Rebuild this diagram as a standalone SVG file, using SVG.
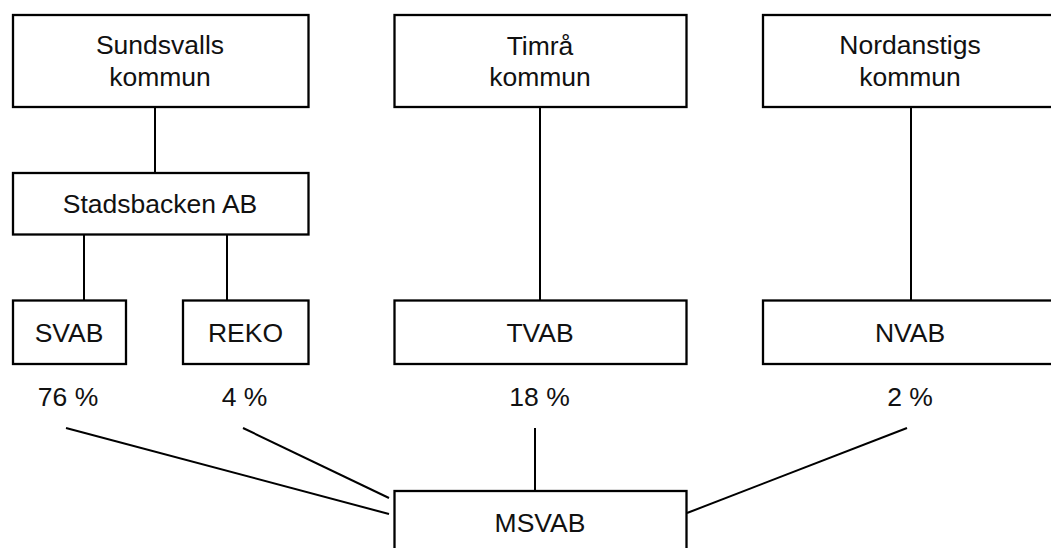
<svg xmlns="http://www.w3.org/2000/svg" width="1051" height="548" viewBox="0 0 1051 548">
<style>
.box{fill:#fff;stroke:#000;stroke-width:2.3}
.t{font-family:"Liberation Sans",Arial,sans-serif;font-size:26.5px;fill:#111;text-anchor:middle}
.c{stroke:#000;stroke-width:2;fill:none}
</style>
<rect width="1051" height="548" fill="#fff"/>
<g id="connectors">
<line class="c" x1="155" y1="107" x2="155" y2="173"/>
<line class="c" x1="84" y1="234.5" x2="84" y2="300.5"/>
<line class="c" x1="227" y1="234.5" x2="227" y2="300.5"/>
<line class="c" x1="540" y1="107" x2="540" y2="300.5"/>
<line class="c" x1="911" y1="107" x2="911" y2="300.5"/>
<line class="c" x1="66" y1="428" x2="389" y2="514"/>
<line class="c" x1="243" y1="428" x2="389" y2="498"/>
<line class="c" x1="535" y1="428" x2="535" y2="491"/>
<line class="c" x1="907" y1="428" x2="687" y2="513"/>
</g>
<g id="sundsvalls"><rect class="box" x="13" y="15" width="295.5" height="92"/><text class="t" x="160" y="54">Sundsvalls</text><text class="t" x="160" y="86">kommun</text></g>
<g id="timra"><rect class="box" x="394.5" y="15" width="292" height="92"/><text class="t" x="540" y="55">Timrå</text><text class="t" x="540" y="86">kommun</text></g>
<g id="nordanstigs"><rect class="box" x="763" y="15" width="300" height="92"/><text class="t" x="910" y="54">Nordanstigs</text><text class="t" x="910" y="86">kommun</text></g>
<g id="stadsbacken"><rect class="box" x="13" y="173" width="295.5" height="61.5"/><text class="t" x="160" y="213">Stadsbacken AB</text></g>
<g id="svab"><rect class="box" x="13" y="300.5" width="113" height="63.5"/><text class="t" x="69" y="342">SVAB</text></g>
<g id="reko"><rect class="box" x="183" y="300.5" width="125.5" height="63.5"/><text class="t" x="245.5" y="342">REKO</text></g>
<g id="tvab"><rect class="box" x="394.5" y="300.5" width="292" height="63.5"/><text class="t" x="540" y="342">TVAB</text></g>
<g id="nvab"><rect class="box" x="763" y="300.5" width="300" height="63.5"/><text class="t" x="910" y="342">NVAB</text></g>
<g id="labels">
<text class="t" x="68" y="406">76 %</text>
<text class="t" x="244.5" y="406">4 %</text>
<text class="t" x="539.5" y="406">18 %</text>
<text class="t" x="910" y="406">2 %</text>
</g>
<g id="msvab"><rect class="box" x="394.5" y="491" width="292" height="70"/><text class="t" x="540" y="532">MSVAB</text></g>
</svg>
